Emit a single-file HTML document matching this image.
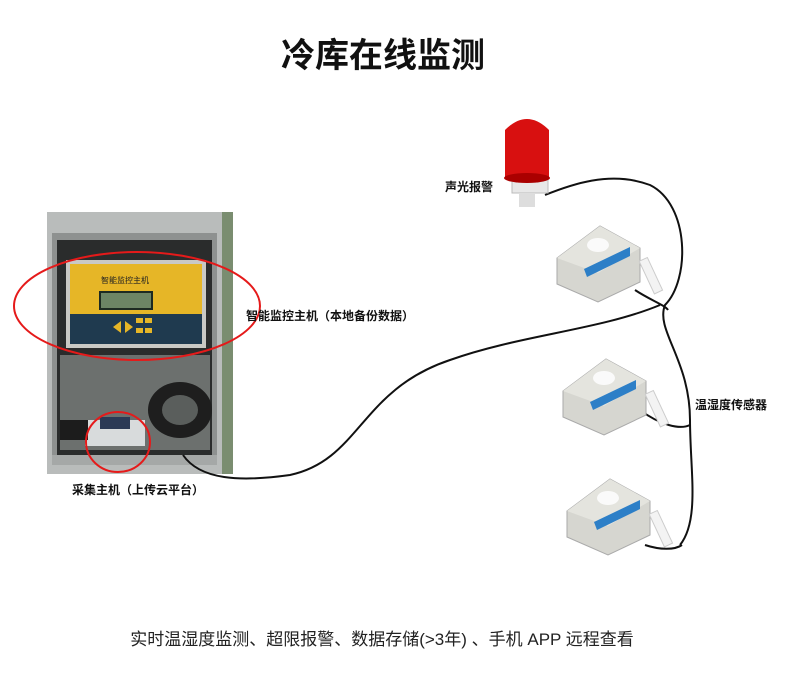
<!DOCTYPE html>
<html><head><meta charset="utf-8"><style>
body{margin:0;background:#fff;}
svg{display:block}
text{font-family:"Liberation Sans","Noto Sans CJK SC",sans-serif}
</style></head><body>
<svg width="800" height="687" viewBox="0 0 800 687" xmlns="http://www.w3.org/2000/svg">
<rect width="800" height="687" fill="#fff"/>
<text x="383" y="67" font-size="34" font-weight="bold" text-anchor="middle" fill="#111">冷库在线监测</text>

<rect x="47" y="212" width="186" height="262" fill="#b9bcbb"/>
<rect x="222" y="212" width="11" height="262" fill="#7a8d70"/>
<rect x="52" y="233" width="165" height="230" fill="#8e9190"/>
<rect x="57" y="240" width="155" height="215" fill="#2a2c2c"/>
<rect x="66" y="260" width="140" height="88" fill="#c9c9c5"/>
<rect x="70" y="264" width="132" height="50" fill="#e6b627"/>
<rect x="70" y="314" width="132" height="30" fill="#1f3a4f"/>
<rect x="99" y="291" width="54" height="19" fill="#1d2a22"/>
<rect x="101" y="293" width="50" height="15" fill="#6d8565"/>
<text x="125" y="283" font-size="8" text-anchor="middle" fill="#222">智能监控主机</text>
<polygon points="113,327 121,321 121,333" fill="#e6b627"/>
<polygon points="133,327 125,321 125,333" fill="#e6b627"/>
<rect x="136" y="318" width="7" height="5" fill="#e6b627"/><rect x="145" y="318" width="7" height="5" fill="#e6b627"/>
<rect x="136" y="328" width="7" height="5" fill="#e6b627"/><rect x="145" y="328" width="7" height="5" fill="#e6b627"/>
<rect x="60" y="355" width="150" height="95" fill="#6c706e"/>
<ellipse cx="180" cy="410" rx="32" ry="28" fill="#1e1e1e"/>
<ellipse cx="180" cy="410" rx="18" ry="15" fill="#5a5e5c"/>
<rect x="85" y="420" width="60" height="26" fill="#d8dbdc"/>
<rect x="60" y="420" width="28" height="20" fill="#1c1c1c"/>
<rect x="100" y="417" width="30" height="12" fill="#2b3a55"/>
<rect x="52" y="455" width="165" height="10" fill="#a5a8a7"/>
<ellipse cx="137" cy="306" rx="123" ry="54" fill="none" stroke="#e51a1a" stroke-width="2"/>
<ellipse cx="118" cy="442" rx="32" ry="30" fill="none" stroke="#e51a1a" stroke-width="2"/>

<g fill="none" stroke="#111" stroke-width="2">
<path d="M183,455 C200,480 240,482 290,475 C360,460 360,390 450,360 C520,335 600,330 660,305"/>
<path d="M545,195 C570,185 610,170 650,185 C690,205 690,280 665,305 C655,330 690,360 690,420 C690,470 700,520 680,545"/>
<path d="M635,290 C650,300 665,305 668,310"/>
<path d="M640,410 C660,425 680,430 690,425"/>
<path d="M645,545 C660,550 675,550 682,545"/>
</g>

<rect x="512" y="175" width="36" height="18" fill="#e8e8e8" stroke="#bbb"/>
<path d="M505,178 L505,130 Q527,108 549,130 L549,178 Z" fill="#d81010"/>
<ellipse cx="527" cy="178" rx="23" ry="5" fill="#a00"/>
<rect x="519" y="193" width="16" height="14" fill="#ddd"/>
<text x="469" y="191" font-size="12" font-weight="bold" text-anchor="middle" fill="#111">声光报警</text>

<g id="s1">
<path d="M557,258 L600,226 L640,248 L640,282 L598,302 L557,284 Z" fill="#d6d6d0" stroke="#aaa"/>
<path d="M557,258 L600,226 L640,248 L598,273 Z" fill="#e4e4de"/>
<ellipse cx="598" cy="245" rx="11" ry="7" fill="#fafafa"/>
<path d="M584,269 L630,247 L630,256 L587,277 Z" fill="#2d7fc7"/>
<rect x="646" y="258" width="9" height="36" fill="#f3f3f3" stroke="#ccc" transform="rotate(-25 650 275)"/>
</g>
<use href="#s1" transform="translate(6,133)"/>
<use href="#s1" transform="translate(10,253)"/>

<text x="330" y="320" font-size="12" font-weight="bold" text-anchor="middle" fill="#111">智能监控主机（本地备份数据）</text>
<text x="138" y="494" font-size="12" font-weight="bold" text-anchor="middle" fill="#111">采集主机（上传云平台）</text>
<text x="731" y="409" font-size="12" font-weight="bold" text-anchor="middle" fill="#111">温湿度传感器</text>
<text x="382" y="645" font-size="17" text-anchor="middle" fill="#222">实时温湿度监测、超限报警、数据存储(&gt;3年) 、手机 APP 远程查看</text>
</svg>
</body></html>
